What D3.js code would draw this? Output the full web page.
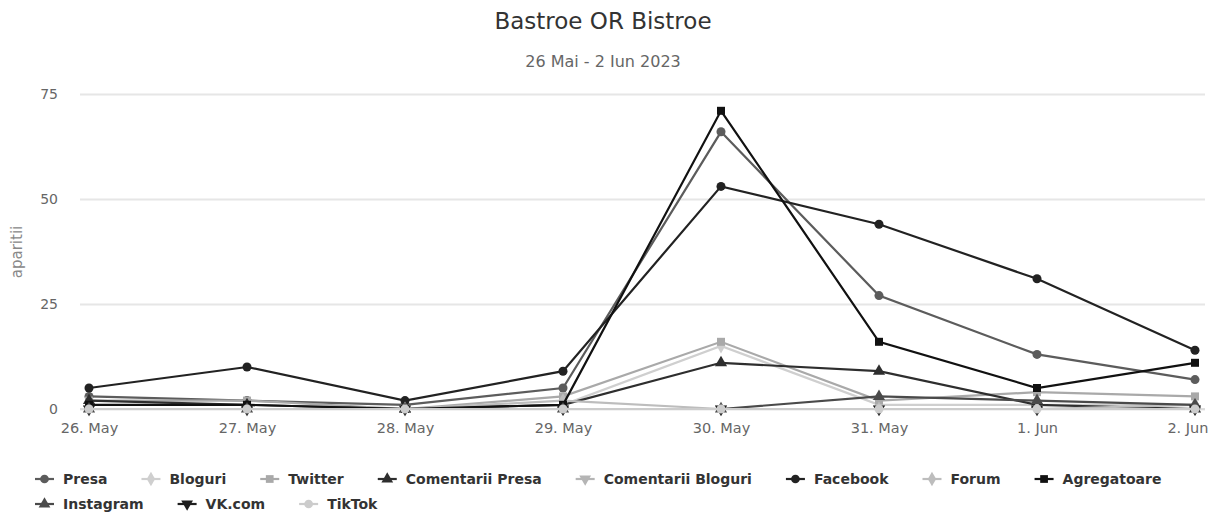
<!DOCTYPE html>
<html><head><meta charset="utf-8">
<script src="https://cdn.jsdelivr.net/npm/d3@7"></script>
<style>body{margin:0;background:#fff;} svg{display:block;font-family:"DejaVu Sans","Liberation Sans",sans-serif;}</style>
</head><body>
<svg id="c" width="1210" height="514"></svg>
<script>
const categories = ["26. May","27. May","28. May","29. May","30. May","31. May","1. Jun","2. Jun"];
const yTicks = [0,25,50,75];
const seriesNames = ["Presa","Bloguri","Twitter","Comentarii Presa","Comentarii Bloguri","Facebook","Forum","Agregatoare","Instagram","VK.com","TikTok"];
const presa            = [3,2,1,5,66,27,13,7];
const bloguri          = [0,0,0,1,15,1,1,1];
const twitter          = [2,2,0,3,16,2,4,3];
const comentariiPresa  = [2,1,0,1,11,9,1,0];
const comentariiBloguri= [0,0,0,0,0,0,0,0];
const facebook         = [5,10,2,9,53,44,31,14];
const forum            = [0,0,0,2,0,0,0,1];
const agregatoare      = [1,1,0,1,71,16,5,11];
const instagram        = [0,0,0,0,0,3,2,1];
const vk               = [0,0,0,0,0,0,0,0];
const tiktok           = [0,0,0,0,0,0,0,0];
const seriesValues = [presa,bloguri,twitter,comentariiPresa,comentariiBloguri,facebook,forum,agregatoare,instagram,vk,tiktok];
const colors = ["#5c5c5c","#cfcfcf","#a9a9a9","#2e2e2e","#b5b5b5","#222222","#bdbdbd","#111111","#4a4a4a","#1e1e1e","#cccccc"];
const symbols = [d3.symbolCircle,d3.symbolDiamond,d3.symbolSquare,d3.symbolTriangle,"tdown"];

const svg = d3.select("#c");
const x = d3.scalePoint().domain(categories).range([89,1195]);
const y = d3.scaleLinear().domain([0,75]).range([409,94]);

// title
svg.append("text").attr("x",603).attr("y",29).attr("text-anchor","middle")
  .attr("font-size",23).attr("fill","#333").text("Bastroe OR Bistroe");
svg.append("text").attr("x",603).attr("y",67).attr("text-anchor","middle")
  .attr("font-size",16).attr("fill","#666").text("26 Mai - 2 Iun 2023");

// grid
const yAxis = d3.axisLeft(y).tickValues(yTicks).tickSize(-(1205-80)).tickPadding(22);
const gy = svg.append("g").attr("transform","translate(80,0)").call(yAxis);
gy.select(".domain").remove();
gy.selectAll(".tick line").attr("stroke","#e6e6e6").attr("stroke-width",2);
gy.selectAll(".tick text").attr("font-size",14).attr("fill","#666").attr("font-family","DejaVu Sans, sans-serif");

// x axis
const xAxis = d3.axisBottom(x).tickSize(0).tickPadding(14);
const gx = svg.append("g").attr("transform","translate(0,409)").call(xAxis);
gx.select(".domain").attr("d","M80,0H1205").attr("stroke","#d6d6d6").attr("stroke-width",1.5);
gx.selectAll(".tick text").attr("font-size",14.5).attr("fill","#666").attr("font-family","DejaVu Sans, sans-serif");
gx.selectAll(".tick").filter(d=>d===categories[categories.length-1]).select("text")
  .attr("text-anchor","end").attr("x",1208-x(categories[categories.length-1]));

svg.append("text").attr("transform","translate(22,252) rotate(-90)").attr("text-anchor","middle")
  .attr("font-size",15).attr("fill","#888").text("aparitii");

function symPath(i,size){
  const s = symbols[i%5];
  if(s==="tdown") return d3.symbol().type(d3.symbolTriangle).size(size)();
  return d3.symbol().type(s).size(size)();
}
function symTransform(i,px,py){
  return symbols[i%5]==="tdown" ? `translate(${px},${py}) rotate(180)` : `translate(${px},${py})`;
}

const line = d3.line().x((d,i)=>x(categories[i])).y(d=>y(d));
const plot = svg.append("g");
seriesValues.forEach((vals,si)=>{
  const g = plot.append("g");
  g.append("path").attr("d",line(vals)).attr("fill","none").attr("stroke",colors[si]).attr("stroke-width",2.2);
  g.selectAll("path.m").data(vals).enter().append("path").attr("class","m")
    .attr("d",symPath(si,64)).attr("transform",(d,i)=>symTransform(si,x(categories[i]),y(d)))
    .attr("fill",colors[si]);
});

// legend
const rows = [[0,1,2,3,4,5,6,7],[8,9,10]];
const rowY = [479,504];
rows.forEach((row,ri)=>{
  let cx = 35;
  row.forEach(si=>{
    const g = svg.append("g").attr("transform",`translate(${cx},${rowY[ri]})`);
    g.append("line").attr("x1",0).attr("x2",19).attr("y1",0).attr("y2",0).attr("stroke",colors[si]).attr("stroke-width",2.2);
    g.append("path").attr("d",symPath(si,60)).attr("transform",symTransform(si,9.5,0)).attr("fill",colors[si]);
    const t = g.append("text").attr("x",28).attr("y",5).attr("font-size",14).attr("font-weight","bold")
      .attr("fill","#333").text(seriesNames[si]);
    cx += 28 + t.node().getComputedTextLength() + 34;
  });
});
</script>
</body></html>
